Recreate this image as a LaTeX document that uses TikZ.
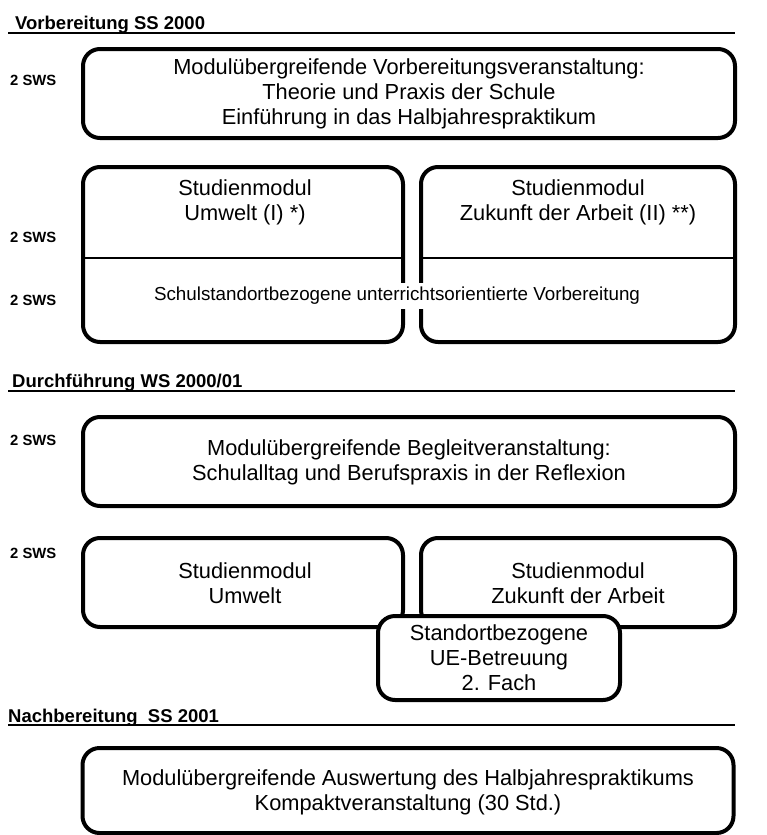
\documentclass[tikz,border=0pt]{standalone}
\usepackage{fontspec}
\setmainfont{Liberation Sans}
\begin{document}
\begin{tikzpicture}[x=1pt,y=-1pt,
  blk/.style={draw=black, line width=4pt, rounded corners=17pt, inner sep=0pt, fill=white},
  txt/.style={font=\fontsize{21.8}{25}\selectfont, align=center, inner sep=0pt},
  small/.style={font=\fontsize{18.8}{22}\selectfont, fill=white, inner sep=4pt},
  hdr/.style={font=\bfseries\fontsize{18.5}{21}\selectfont, anchor=base west, inner sep=0pt},
  sws/.style={font=\bfseries\fontsize{14.8}{17}\selectfont, anchor=west, inner sep=0pt},
  hrule/.style={line width=1.3pt},
  divider/.style={line width=1.5pt}]
\useasboundingbox (0,0) rectangle (766,835);
\fill[white] (0,0) rectangle (766,835);

% ---- Vorbereitung
\node[hdr] (h1) at (15,29) {Vorbereitung SS 2000};
\coordinate (r1a) at (8,33); \coordinate (r1b) at (735,33);
\draw[hrule] (r1a) -- (r1b);

\node[sws] (s1) at (10,80) {2 SWS};
\node[blk, minimum width=652pt, minimum height=89pt] (b1) at (409,93.5) {};
\node[txt] (t1) at (b1.center) {Modulübergreifende Vorbereitungsveranstaltung:\\Theorie und Praxis der Schule\\Einführung in das Halbjahrespraktikum};

\node[sws] (s2) at (10,237) {2 SWS};
\node[sws] (s3) at (10,300) {2 SWS};
\node[blk, minimum width=320pt, minimum height=175pt] (b2) at (243,254.5) {};
\node[blk, minimum width=314pt, minimum height=175pt] (b3) at (578,254.5) {};
\coordinate (d) at (0,258);
\draw[divider] (b2.west |- d) -- (b2.east |- d);
\draw[divider] (b3.west |- d) -- (b3.east |- d);
\node[txt] (t2) at (245,202) {Studienmodul\\Umwelt (I) *)};
\node[txt] (t3) at (578,202) {Studienmodul\\Zukunft der Arbeit (II) **)};
\node[small] (t4) at (397,296) {Schulstandortbezogene unterrichtsorientierte Vorbereitung};

% ---- Durchfuehrung
\node[hdr] (h2) at (12,387) {Durchführung WS 2000/01};
\coordinate (r2a) at (8,391); \coordinate (r2b) at (735,391);
\draw[hrule] (r2a) -- (r2b);

\node[sws] (s4) at (10,440) {2 SWS};
\node[blk, minimum width=652pt, minimum height=89pt] (b4) at (409,461.5) {};
\node[txt] (t5) at (409,462) {Modulübergreifende Begleitveranstaltung:\\Schulalltag und Berufspraxis in der Reflexion};

\node[sws] (s5) at (10,553) {2 SWS};
\node[blk, minimum width=320pt, minimum height=89pt] (b5) at (243,582.5) {};
\node[blk, minimum width=314pt, minimum height=89pt] (b6) at (578,582.5) {};
\node[txt] (t6) at (245,583) {Studienmodul\\Umwelt};
\node[txt] (t7) at (578,583) {Studienmodul\\Zukunft der Arbeit};
\node[blk, minimum width=242pt, minimum height=84pt] (b7) at (499,658) {};
\node[txt] (t8) at (b7.center) {Standortbezogene\\UE-Betreuung\\2. Fach};

% ---- Nachbereitung
\node[hdr] (h3) at (8,722) {Nachbereitung\ \ SS 2001};
\coordinate (r3a) at (8,725); \coordinate (r3b) at (735,725);
\draw[hrule] (r3a) -- (r3b);

\node[blk, minimum width=651pt, minimum height=85pt] (b8) at (408,790.5) {};
\node[txt] (t9) at (408,792) {Modulübergreifende Auswertung des Halbjahrespraktikums\\Kompaktveranstaltung (30 Std.)};
\end{tikzpicture}
\end{document}
